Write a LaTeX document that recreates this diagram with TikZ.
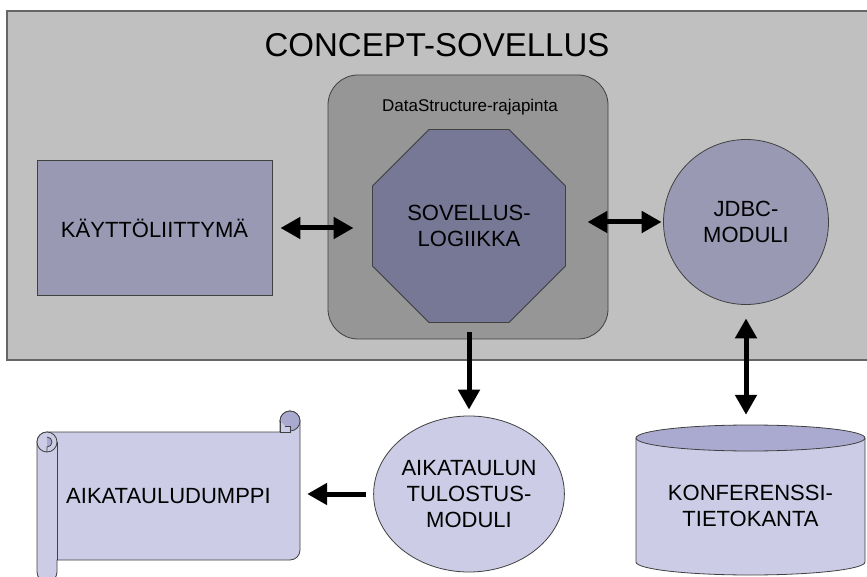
\documentclass[tikz,border=0pt]{standalone}
\usepackage{fontspec}
\setmainfont{Liberation Sans}
\usetikzlibrary{shapes.geometric,arrows.meta,positioning,calc}
\definecolor{appgray}{RGB}{192,192,192}
\definecolor{apigray}{RGB}{150,150,150}
\definecolor{logicfill}{RGB}{119,119,150}
\definecolor{modfill}{RGB}{153,153,180}
\definecolor{lightfill}{RGB}{204,204,230}
\definecolor{curlfill}{RGB}{170,170,208}

\begin{document}
\begin{tikzpicture}[x=1pt, y=1pt,
    lbl/.style={font=\fontsize{22}{26}\selectfont, align=center, text=black},
    shapeline/.style={draw=black!75, line width=0.8pt},
    dblarrow/.style={{Triangle[length=20pt,width=21pt]}-{Triangle[length=20pt,width=21pt]}, line width=5pt},
    onearrow/.style={-{Triangle[length=20pt,width=21pt]}, line width=5pt}]

   \useasboundingbox (0,0) rectangle (867,576);

   % application frame
   \draw[fill=appgray, draw=black!60, line width=1.2pt] (7,216) rectangle (885,565);
   \node[font=\fontsize{33}{36}\selectfont] (title) at (437,531) {CONCEPT-SOVELLUS};

   % interface box and logic
   \draw[fill=apigray, shapeline, rounded corners=30pt] (328,237) rectangle (608,501);
   \node[font=\fontsize{17}{20}\selectfont] (api) at (470,469) {DataStructure-rajapinta};
   \node[regular polygon, regular polygon sides=8, minimum size=209pt, inner sep=0pt,
         fill=logicfill, shapeline, lbl] (logic) at (469,350) {SOVELLUS-\\LOGIIKKA};

   \node[rectangle, minimum width=235pt, minimum height=135pt, fill=modfill, shapeline, lbl]
        (ui) at (154.5,348) {KÄYTTÖLIITTYMÄ};
   \node[circle, minimum size=165pt, inner sep=0pt, fill=modfill, shapeline, lbl]
        (jdbc) at (746,354) {JDBC-\\MODULI};

   % output module
   \node[ellipse, minimum width=166pt, minimum height=156pt, inner sep=0pt, fill=lightfill, shapeline, lbl]
        (print) at (469,82) {AIKATAULUN\\TULOSTUS-\\MODULI};

   % scroll
   \draw[fill=lightfill, shapeline] (57,16) -- (290,16) arc[start angle=-90, end angle=0, radius=10]
        -- (300,155) arc[start angle=0, end angle=180, radius=10] -- (280,144) -- (47,144)
        arc[start angle=90, end angle=180, radius=10] -- (37,4)
        arc[start angle=180, end angle=360, radius=10] -- cycle;
   \draw[fill=curlfill, shapeline] (290,155) circle[radius=10];
   \draw[fill=lightfill, shapeline] (280,155) -- (280,144) -- (290,144) -- (290,150) -- (285,150);
   \draw[fill=lightfill, shapeline] (47,134) circle[radius=10];
   \draw[fill=curlfill, shapeline] (47,139) arc[start angle=90, end angle=-90, radius=5] -- (47,124);
   \draw[shapeline] (57,134) -- (57,16);
   \node[lbl, minimum width=263pt, minimum height=128pt, inner sep=0pt] (dump) at (168.5,80) {AIKATAULUDUMPPI};

   % database
   \draw[fill=lightfill, shapeline] (636,138) -- (636,14)
        arc[start angle=180, end angle=360, x radius=114.5, y radius=13] -- (865,138);
   \draw[fill=curlfill, shapeline] (750.5,138) ellipse[x radius=114.5, y radius=13];
   \node[lbl, minimum width=229pt, minimum height=162pt, inner sep=0pt] (db) at (750.5,70) {KONFERENSSI-\\TIETOKANTA};

   % connectors
   \draw[dblarrow, shorten <=8pt, shorten >=18.5pt] (ui.east) -- (ui.east -| logic.west);
   \draw[dblarrow, shorten <=21.5pt, shorten >=1.5pt] (logic.east |- jdbc.west) -- (jdbc.west);
   \draw[onearrow, shorten <=9.5pt, shorten >=6pt] (logic.south) -- (logic.south |- print.north);
   \draw[onearrow, shorten <=7pt, shorten >=7pt] (print.west) -- (print.west -| dump.east);
   \draw[dblarrow, shorten <=13.5pt, shorten >=10pt] (jdbc.south) -- (jdbc.south |- db.north);

\end{tikzpicture}
\end{document}
